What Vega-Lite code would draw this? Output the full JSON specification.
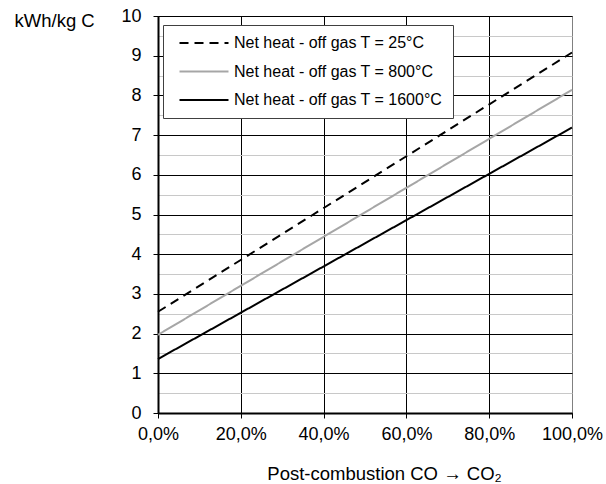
{
  "$schema": "https://vega.github.io/schema/vega-lite/v6.json",
  "width": 414,
  "height": 397,
  "autosize": "none",
  "padding": {"left": 158, "top": 16, "right": 34, "bottom": 71},
  "background": "white",
  "config": {
    "font": "Liberation Sans",
    "view": {"stroke": "#808080", "strokeWidth": 1},
    "axis": {"labelColor": "#000", "titleColor": "#000", "titleFontWeight": "normal", "labelFont": "Liberation Sans", "titleFont": "Liberation Sans"}
  },
  "data": {
    "values": [
      {"s": "Net heat - off gas T = 25°C", "x": 0, "y": 2.55},
      {"s": "Net heat - off gas T = 25°C", "x": 100, "y": 9.08},
      {"s": "Net heat - off gas T = 800°C", "x": 0, "y": 1.97},
      {"s": "Net heat - off gas T = 800°C", "x": 100, "y": 8.14},
      {"s": "Net heat - off gas T = 1600°C", "x": 0, "y": 1.36},
      {"s": "Net heat - off gas T = 1600°C", "x": 100, "y": 7.19}
    ]
  },
  "mark": {"type": "line", "strokeWidth": 2},
  "encoding": {
    "x": {
      "field": "x", "type": "quantitative",
      "scale": {"domain": [0, 100], "nice": false, "zero": false},
      "axis": {
        "values": [0, 20, 40, 60, 80, 100],
        "labelExpr": "replace(format(datum.value, '.1f'), '.', ',') + '%'",
        "labelFontSize": 18,
        "labelFlush": false,
        "labelOverlap": false,
        "labelPadding": 7,
        "tickSize": 5,
        "tickColor": "#000",
        "domainColor": "#000",
        "domainWidth": 2,
        "grid": true,
        "gridColor": {"condition": {"test": "datum.value === 100", "value": "#808080"}, "value": "#000"},
        "gridWidth": 1,
        "title": "Post-combustion  CO → CO₂",
        "titleFontSize": 18.5,
        "titleX": 226,
        "titleY": 66,
        "titleAlign": "center",
        "titleBaseline": "alphabetic"
      }
    },
    "y": {
      "field": "y", "type": "quantitative",
      "scale": {"domain": [0, 10], "nice": false, "zero": true},
      "axis": {
        "values": [0, 0.5, 1, 1.5, 2, 2.5, 3, 3.5, 4, 4.5, 5, 5.5, 6, 6.5, 7, 7.5, 8, 8.5, 9, 9.5, 10],
        "labelExpr": "datum.value % 1 === 0 ? datum.value : ''",
        "labelFontSize": 18,
        "labelPadding": 12,
        "tickSize": 5,
        "tickColor": "#000",
        "tickOpacity": {"condition": {"test": "datum.value % 1 === 0", "value": 1}, "value": 0},
        "domainColor": "#000",
        "domainWidth": 2,
        "grid": true,
        "gridColor": {"condition": {"test": "datum.value % 1 === 0", "value": "#000"}, "value": "#c8c8c8"},
        "gridWidth": 1,
        "title": "kWh/kg C",
        "titleFontSize": 18.5,
        "titleAngle": 0,
        "titleAlign": "left",
        "titleBaseline": "alphabetic",
        "titleX": -144,
        "titleY": 10
      }
    },
    "color": {
      "field": "s", "type": "nominal",
      "scale": {
        "domain": ["Net heat - off gas T = 25°C", "Net heat - off gas T = 800°C", "Net heat - off gas T = 1600°C"],
        "range": ["#000000", "#a6a6a6", "#000000"]
      },
      "legend": {
        "title": null,
        "orient": "none",
        "legendX": 5,
        "legendY": 9,
        "padding": 10,
        "strokeColor": "#404040",
        "fillColor": "white",
        "labelFontSize": 16,
        "labelLimit": 400,
        "labelColor": "#000",
        "labelFont": "Liberation Sans",
        "symbolType": "M-5,0H5",
        "symbolSize": 96,
        "symbolStrokeWidth": 2,
        "symbolFillColor": "transparent",
        "symbolOffset": 23,
        "labelOffset": 22,
        "rowPadding": 12.5
      }
    },
    "strokeDash": {
      "field": "s", "type": "nominal",
      "scale": {
        "domain": ["Net heat - off gas T = 25°C", "Net heat - off gas T = 800°C", "Net heat - off gas T = 1600°C"],
        "range": [[9, 6], [1, 0], [1, 0]]
      },
      "legend": {
        "title": null,
        "orient": "none",
        "legendX": 5,
        "legendY": 9,
        "padding": 10,
        "strokeColor": "#404040",
        "fillColor": "white",
        "labelFontSize": 16,
        "labelLimit": 400,
        "labelColor": "#000",
        "labelFont": "Liberation Sans",
        "symbolType": "M-5,0H5",
        "symbolSize": 96,
        "symbolStrokeWidth": 2,
        "symbolFillColor": "transparent",
        "symbolOffset": 23,
        "labelOffset": 22,
        "rowPadding": 12.5
      }
    }
  }
}
